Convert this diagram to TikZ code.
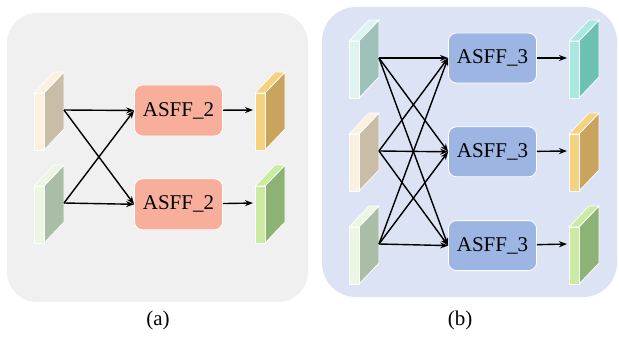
\documentclass[tikz,border=0pt]{standalone}
\usepackage{fontspec}
\setmainfont{Liberation Serif}
\usepackage{xcolor}
\usetikzlibrary{arrows.meta, positioning}

% panel backgrounds and boxes
\definecolor{panelA}{HTML}{F0F0F0}
\definecolor{panelB}{HTML}{DCE3F5}
\definecolor{boxA}{HTML}{F7AE9B}
\definecolor{boxB}{HTML}{9CB5E2}
% feature map colours: strip / face
\definecolor{creamL}{HTML}{FBF1DE}  \definecolor{creamD}{HTML}{CABDA8}
\definecolor{sageL}{HTML}{EBF6E3}   \definecolor{sageD}{HTML}{AABDA6}
\definecolor{mintL}{HTML}{DDF4F1}   \definecolor{mintD}{HTML}{9EC2BA}
\definecolor{goldL}{HTML}{F5D27F}   \definecolor{goldD}{HTML}{C8A45F}
\definecolor{leafL}{HTML}{CBEBA2}   \definecolor{leafD}{HTML}{8DB276}
\definecolor{tealL}{HTML}{A9E9E1}   \definecolor{tealD}{HTML}{6DC1B3}

% \fmap{name}{x}{y}{strip}{face}: thin slab, (x,y) = left side at connector height
\newcommand{\fmap}[5]{%
  \filldraw[fill=#5, draw=white, line width=0.7pt]
    (#2+10,#3-17) -- (#2+30,#3-38) -- (#2+30,#3+19) -- (#2+10,#3+40) -- cycle;
  \filldraw[fill=#4, draw=white, line width=0.7pt]
    (#2,#3-17) -- (#2+20,#3-38) -- (#2+30,#3-38) -- (#2+10,#3-17) -- cycle;
  \filldraw[fill=#4, draw=white, line width=0.7pt]
    (#2,#3-17) rectangle (#2+10,#3+40);
  \coordinate (#1-w) at (#2,#3);
  \coordinate (#1-e) at (#2+30,#3);
}

\begin{document}
\begin{tikzpicture}[x=1pt, y=-1pt,
  asff/.style={draw=white, line width=0.8pt, rounded corners=8pt,
               minimum width=88pt, minimum height=51pt,
               font=\fontsize{21}{25}\selectfont},
  arr/.style={-{Stealth[length=8pt, width=6pt]}, line width=1.4pt},
  lab/.style={font=\fontsize{21}{25}\selectfont},
  node distance=42pt
]
  \useasboundingbox (0,0) rectangle (619,337);

  % backgrounds
  \fill[panelA, rounded corners=30pt] (7,13) rectangle (308,302);
  \fill[panelB, rounded corners=34pt] (322,7) rectangle (617,297);

  %% (a) two levels
  \fmap{ia1}{34}{110}{creamL}{creamD}
  \fmap{ia2}{34}{203}{sageL}{sageD}
  \fmap{oa1}{255}{110}{goldL}{goldD}
  \fmap{oa2}{255}{203}{leafL}{leafD}

  \node[asff, fill=boxA] (a1) at (178.5,110.5) {ASFF\_2};
  \node[asff, fill=boxA, below=42pt of a1] (a2) {ASFF\_2};

  \foreach \s in {ia1,ia2}
    \foreach \t in {a1,a2}
      \draw[arr] (\s-e) -- (\t.west);
  \draw[arr, shorten >=2pt] (a1) -- (oa1-w);
  \draw[arr, shorten >=2pt] (a2) -- (oa2-w);

  %% (b) three levels
  \fmap{ib1}{349}{58}{mintL}{mintD}
  \fmap{ib2}{349}{151}{creamL}{creamD}
  \fmap{ib3}{349}{244}{sageL}{sageD}
  \fmap{ob1}{569}{58}{tealL}{tealD}
  \fmap{ob2}{569}{151}{goldL}{goldD}
  \fmap{ob3}{569}{244}{leafL}{leafD}

  \node[asff, fill=boxB, minimum height=50pt] (b1) at (492.5,58) {ASFF\_3};
  \node[asff, fill=boxB, minimum height=50pt, below=43pt of b1] (b2) {ASFF\_3};
  \node[asff, fill=boxB, minimum height=50pt, below=43pt of b2] (b3) {ASFF\_3};

  \foreach \s in {ib1,ib2,ib3}
    \foreach \t in {b1,b2,b3}
      \draw[arr] (\s-e) -- (\t.west);
  \foreach \i in {1,2,3}
    \draw[arr, shorten >=2pt] (b\i) -- (ob\i-w);

  % captions
  \node[lab] (capa) at (158,320) {(a)};
  \node[lab] (capb) at (460,320) {(b)};
\end{tikzpicture}
\end{document}
